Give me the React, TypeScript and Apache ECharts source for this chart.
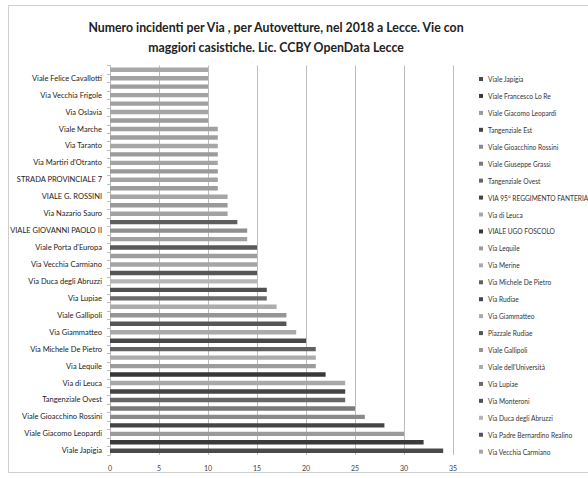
import React, { useEffect, useRef } from "react";
import * as echarts from "echarts";

// Streets, bottom to top (same order as the legend)
const streets: string[] = [
  "Viale Japigia",
  "Viale Francesco Lo Re",
  "Viale Giacomo Leopardi",
  "Tangenziale Est",
  "Viale Gioacchino Rossini",
  "Viale Giuseppe Grassi",
  "Tangenziale Ovest",
  "VIA 95° REGGIMENTO FANTERIA",
  "Via di Leuca",
  "VIALE UGO FOSCOLO",
  "Via Lequile",
  "Via Merine",
  "Via Michele De Pietro",
  "Via Rudiae",
  "Via Giammatteo",
  "Piazzale Rudiae",
  "Viale Gallipoli",
  "Viale dell'Università",
  "Via Lupiae",
  "Via Monteroni",
  "Via Duca degli Abruzzi",
  "Via Padre Bernardino Realino",
  "Via Vecchia Carmiano",
  "Altra via 24",
  "Viale Porta d'Europa",
  "Altra via 26",
  "VIALE GIOVANNI PAOLO II",
  "Altra via 28",
  "Via Nazario Sauro",
  "Altra via 30",
  "VIALE G. ROSSINI",
  "Altra via 32",
  "STRADA PROVINCIALE 7",
  "Altra via 34",
  "Via Martiri d'Otranto",
  "Altra via 36",
  "Via Taranto",
  "Altra via 38",
  "Viale Marche",
  "Altra via 40",
  "Via Oslavia",
  "Altra via 42",
  "Via Vecchia Frigole",
  "Altra via 44",
  "Viale Felice Cavallotti",
  "Altra via 46",
];

// Number of car accidents per street in 2018
const incidents: number[] = [
  34, 32, 30, 28, 26, 25, 24, 24, 24, 22,
  21, 21, 21, 20, 19, 18, 18, 17, 16, 16,
  15, 15, 15, 15, 15, 14, 14, 13, 12, 12,
  12, 11, 11, 11, 11, 11, 11, 11, 11, 10,
  10, 10, 10, 10, 10, 10,
];

// Entries listed in the legend box
const legendCount = 23;

// One shade per street ("vary colours by point")
const shades: string[] = [
  "#4a4a4a", "#3a3a3a", "#9a9a9a", "#444444", "#8a8a8a", "#7a7a7a",
  "#666666", "#454545", "#a8a8a8", "#383838", "#9c9c9c", "#ababab",
  "#626262", "#474747", "#a9a9a9", "#555555", "#959595", "#adadad",
  "#6a6a6a", "#505050", "#b5b5b5", "#565656", "#a5a5a5", "#9e9e9e",
  "#5a5a5a", "#a0a0a0", "#8e8e8e", "#5e5e5e", "#a2a2a2", "#9a9a9a",
  "#a6a6a6", "#9d9d9d", "#a3a3a3", "#999999", "#a4a4a4", "#9b9b9b",
  "#a7a7a7", "#9f9f9f", "#a1a1a1", "#9c9c9c", "#a5a5a5", "#a0a0a0",
  "#a3a3a3", "#9e9e9e", "#a2a2a2", "#a8a8a8",
];

const FONT = "Lato, 'Open Sans', sans-serif";

export default function App() {
  const ref = useRef<HTMLDivElement>(null);

  useEffect(() => {
    if (!ref.current) return;
    const chart = echarts.init(ref.current, undefined, { renderer: "svg" });

    const series = streets.map((name, i) => ({
      name,
      type: "bar",
      stack: "total",
      barWidth: "52%",
      itemStyle: { color: shades[i] },
      data: incidents.map((v, j) => (j === i ? v : "-")),
    }));

    chart.setOption({
      animation: false,
      backgroundColor: "#ffffff",
      textStyle: { fontFamily: FONT },
      title: {
        text:
          "Numero incidenti per Via , per Autovetture, nel 2018 a Lecce. Vie con\nmaggiori casistiche. Lic. CCBY OpenData Lecce",
        left: 271,
        top: 12,
        textAlign: "center",
        textStyle: {
          fontFamily: FONT,
          fontSize: 12.3,
          fontWeight: "bold",
          color: "#222222",
          lineHeight: 20,
        },
      },
      graphic: [
        {
          type: "rect",
          shape: { x: 8.5, y: 5.5, width: 600, height: 467 },
          style: { fill: "none", stroke: "#cfcfcf", lineWidth: 1 },
          silent: true,
        },
      ],
      legend: {
        orient: "vertical",
        left: 474,
        top: 69,
        icon: "rect",
        itemWidth: 4,
        itemHeight: 4,
        itemGap: 6.94,
        data: streets.slice(0, legendCount),
        textStyle: { fontFamily: FONT, fontSize: 6.6, color: "#333333", lineHeight: 10 },
        selectedMode: false,
      },
      grid: { left: 110, top: 65.5, width: 343, height: 389.5, containLabel: false },
      xAxis: {
        type: "value",
        min: 0,
        max: 35,
        interval: 5,
        axisLine: { show: false },
        axisTick: { show: false },
        axisLabel: { fontFamily: FONT, fontSize: 7, color: "#444444", margin: 9 },
        splitLine: { show: true, lineStyle: { color: "#bdbdbd", width: 1 } },
      },
      yAxis: {
        type: "category",
        data: streets,
        axisLine: { show: true, lineStyle: { color: "#bdbdbd" } },
        axisTick: { show: true, interval: 0, length: 3, lineStyle: { color: "#bdbdbd" } },
        axisLabel: { interval: 1, fontFamily: FONT, fontSize: 7.5, color: "#222222", margin: 8 },
      },
      series,
    });

    return () => chart.dispose();
  }, []);

  return (
    <div
      ref={ref}
      style={{ position: "fixed", left: 0, top: 0, width: 588, height: 478 }}
    />
  );
}
